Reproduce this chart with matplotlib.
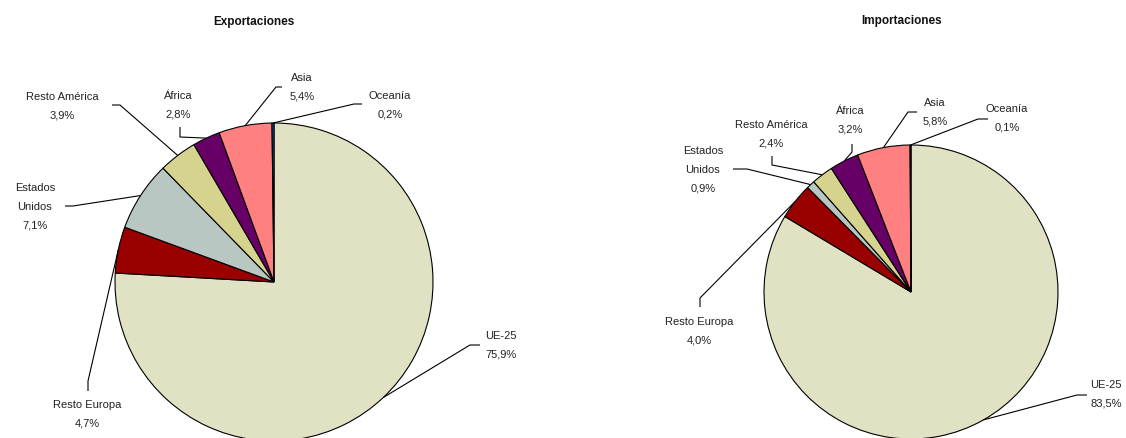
import matplotlib
matplotlib.use('Agg')
import matplotlib.pyplot as plt
import numpy as np

plt.rcParams['font.family'] = ['Liberation Sans', 'DejaVu Sans']

W, H = 1126, 439

categories = ['UE-25', 'Resto Europa', 'Estados Unidos', 'Resto América', 'África', 'Asia', 'Oceanía']
label_names = ['UE-25', 'Resto Europa', 'Estados\nUnidos', 'Resto América', 'África', 'Asia', 'Oceanía']
export_values = [75.9, 4.7, 7.1, 3.9, 2.8, 5.4, 0.2]
import_values = [83.5, 4.0, 0.9, 2.4, 3.2, 5.8, 0.1]
titles = ['Exportaciones', 'Importaciones']
colors = ['#E1E1C4', '#990000', '#B9C7C2', '#D6D38F', '#660066', '#FF8080', '#0066CC']

fig = plt.figure(figsize=(W / 100, H / 100), dpi=100)
ax = fig.add_axes([0, 0, 1, 1])


def Y(py):
    return H - py


# layout (pixel positions): pie centre/radius, title position, label centres, leader elbows
layouts = [
    dict(center=(274, 283), r=159, title=(254, 22),
         labels=[(501, 345), (87, 414), (35, 207), (62, 106), (178, 105), (302, 87), (390, 105)],
         elbows=[[(480, 346), (470, 346)],
                 [(88, 392), (88, 382)],
                 [(65, 207), (73, 207)],
                 [(112, 106), (120, 106)],
                 [(180, 128), (180, 138)],
                 [(282, 88), (276, 88)],
                 [(362, 105), (354, 105)]]),
    dict(center=(911, 293), r=147, title=(902, 21),
         labels=[(1106, 394), (699, 331), (703, 170), (771, 134), (850, 120), (935, 112), (1007, 118)],
         elbows=[[(1087, 396), (1077, 396)],
                 [(700, 308), (700, 299)],
                 [(733, 170), (747, 170)],
                 [(772, 157), (772, 166)],
                 [(852, 145), (852, 153)],
                 [(917, 113), (908, 113)],
                 [(988, 120), (978, 120)]]),
]

for values, title, lay in zip([export_values, import_values], titles, layouts):
    cx, cy = lay['center']
    r = lay['r']
    wedges, _ = ax.pie(values, colors=colors, startangle=90, counterclock=False,
                       center=(cx, Y(cy)), radius=r, frame=True, normalize=True,
                       wedgeprops=dict(edgecolor='black', linewidth=0.8))
    ax.text(lay['title'][0], Y(lay['title'][1]), title, ha='center', va='center',
            fontsize=8.5, fontweight='bold', color='#111111')
    for w, name, val, (lx, ly), elb in zip(wedges, label_names, values,
                                           lay['labels'], lay['elbows']):
        theta = np.deg2rad((w.theta1 + w.theta2) / 2)
        ax_ = cx + r * np.cos(theta)
        ay_ = Y(cy) + r * np.sin(theta)
        xs = [p[0] for p in elb] + [ax_]
        ys = [Y(p[1]) for p in elb] + [ay_]
        ax.plot(xs, ys, color='black', linewidth=0.8, solid_capstyle='butt')
        txt = f"{name}\n{val:.1f}%".replace('.', ',')
        ax.text(lx, Y(ly), txt, ha='center', va='center', multialignment='center',
                fontsize=8, linespacing=2.1, color='#222222')

ax.set_xlim(0, W)
ax.set_ylim(0, H)
ax.set_aspect('auto')
ax.axis('off')

fig.savefig('out.png', dpi=100, facecolor='white')
